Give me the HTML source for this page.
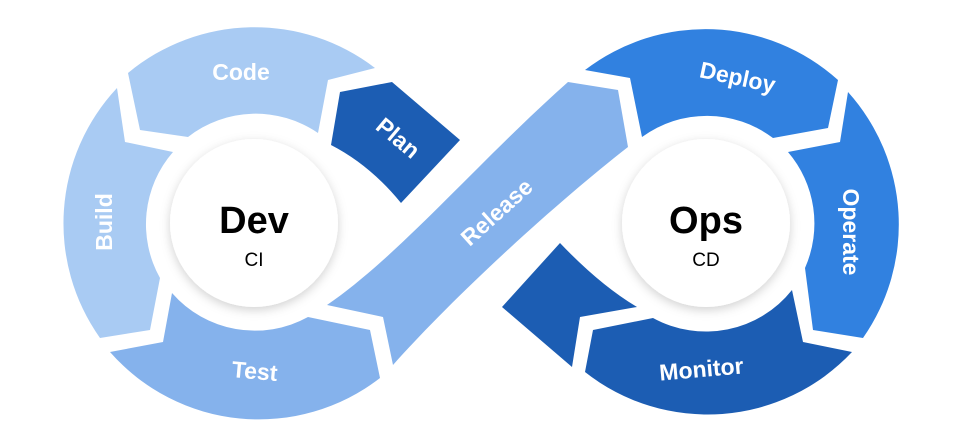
<!DOCTYPE html>
<html><head><meta charset="utf-8"><style>
html,body{margin:0;padding:0;background:#fff;}
svg{display:block;}
.l{font-family:"Liberation Sans",Arial,sans-serif;font-weight:bold;font-size:23px;fill:#fff;text-anchor:middle;}
.b{font-family:"Liberation Sans",Arial,sans-serif;font-weight:bold;font-size:38px;fill:#000;text-anchor:middle;}
.s{font-family:"Liberation Sans",Arial,sans-serif;font-size:19px;fill:#000;text-anchor:middle;}
</style></head><body>
<svg width="976" height="429" viewBox="0 0 976 429" xmlns="http://www.w3.org/2000/svg">
<defs>
<filter id="sh" x="-30%" y="-30%" width="160%" height="160%">
<feDropShadow dx="0" dy="3" stdDeviation="5" flood-color="#000" flood-opacity="0.18"/>
</filter>
</defs>
<path d="M128,73 A198,198 0 0 1 375,68 L328,80 L318,133 A110,110 0 0 0 188,137 L140,130 Z" fill="#a9cbf3"/>
<path d="M117,88 A198,198 0 0 0 100,338 L150,330 L160,278 A110,110 0 0 1 173,152 L125,142 Z" fill="#a9cbf3"/>
<path d="M110,352 A198,198 0 0 0 380,378 L370,330 L308,317 A110,110 0 0 1 172,293 L163,342 Z" fill="#85b2ec"/>
<path d="M340,92 L392,82 L460,140 L401,203 Q370,165 331,145 Z" fill="#1c5db3"/>
<path d="M327,305 C400,255 480,160 568,82 L618,90 L628,147 C560,200 460,290 393,365 L383,317 Z" fill="#85b2ec"/>
<path d="M585,70 A198,198 0 0 1 838,80 L828,128 L773,138 A110,110 0 0 0 642,137 L630,78 Z" fill="#3181e0"/>
<path d="M848,92 A198,198 0 0 1 863,338 L813,330 L805,268 A110,110 0 0 0 788,152 L840,142 Z" fill="#3181e0"/>
<path d="M852,352 A198,198 0 0 1 585,372 L593,330 L653,318 A110,110 0 0 0 792,290 L803,342 Z" fill="#1c5db3"/>
<path d="M502,307 L560,243 Q600,285 637,307 L580,317 L572,367 Z" fill="#1c5db3"/>
<circle cx="254" cy="223" r="84" fill="#fff" filter="url(#sh)"/>
<circle cx="706" cy="223" r="84" fill="#fff" filter="url(#sh)"/>
<text class="b" x="254" y="233">Dev</text>
<text class="s" x="254" y="266">CI</text>
<text class="b" x="706" y="233">Ops</text>
<text class="s" x="706" y="266">CD</text>
<text class="l" x="241" y="80">Code</text>
<text class="l" transform="translate(393,144) rotate(40)">Plan</text>
<text class="l" transform="translate(112,222) rotate(-90)">Build</text>
<text class="l" transform="translate(254,379) rotate(5)">Test</text>
<text class="l" transform="translate(502,218) rotate(-42)">Release</text>
<text class="l" transform="translate(736,85) rotate(12)">Deploy</text>
<text class="l" transform="translate(843,232) rotate(90)">Operate</text>
<text class="l" transform="translate(702,377) rotate(-5)">Monitor</text>
</svg>
</body></html>
